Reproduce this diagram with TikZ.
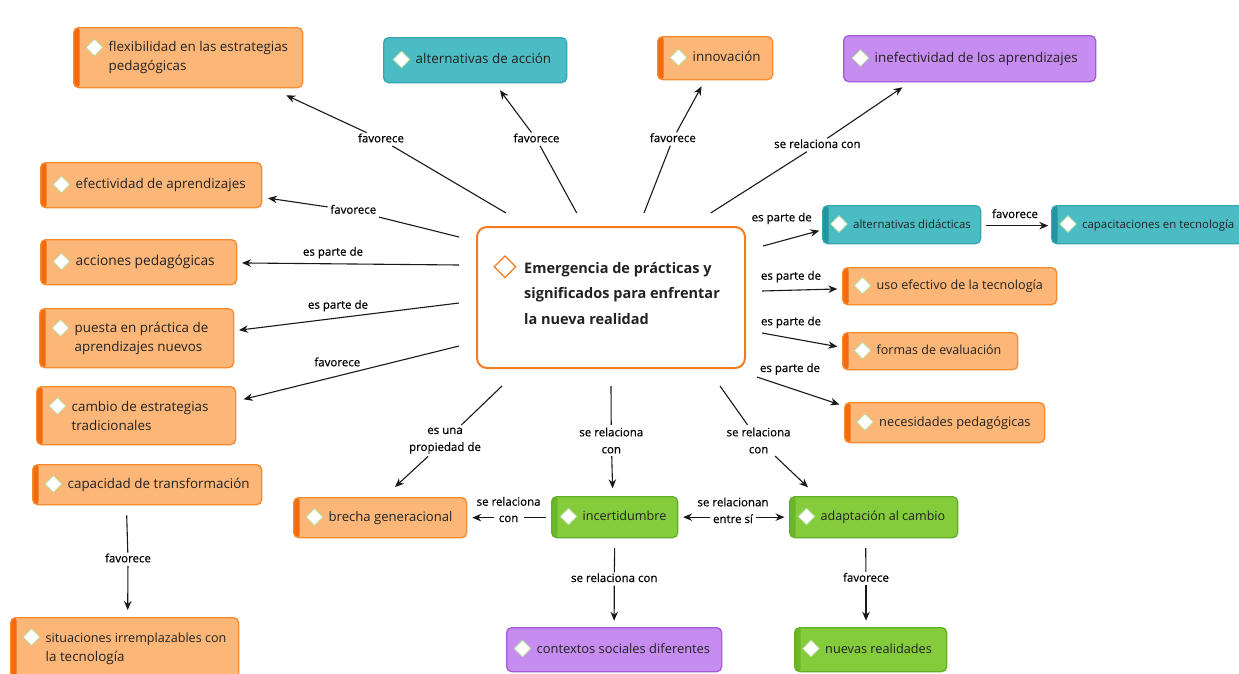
\documentclass[tikz,border=0pt]{standalone}
\usepackage{fontspec}
\setmainfont{Open Sans}
\newfontfamily\lblfont[FakeBold=0.5]{Open Sans}
\usetikzlibrary{arrows.meta,shapes.geometric}
\definecolor{ofill}{HTML}{FCB778}
\definecolor{oline}{HTML}{F7892E}
\definecolor{ostrip}{HTML}{F26C0F}
\definecolor{tfill}{HTML}{4CBCC4}
\definecolor{tline}{HTML}{35A6AF}
\definecolor{tstrip}{HTML}{1F96A0}
\definecolor{pfill}{HTML}{C78CF0}
\definecolor{pline}{HTML}{A45CD6}
\definecolor{gfill}{HTML}{84CC3C}
\definecolor{gline}{HTML}{62AE25}
\definecolor{gstrip}{HTML}{6CB62A}
\definecolor{cline}{HTML}{F47A20}
\definecolor{txtc}{HTML}{222222}
\definecolor{iconline}{HTML}{B5DE9A}
\newcommand\fs[1]{\fontsize{#1}{19}\selectfont}
\newcommand\cmbox[9]{%
  \node[#2, minimum width=#5pt, minimum height=#6pt] (#1) at (#3,#4) {};
  \node[icon] (#1i) at ([xshift=#7pt, yshift=-#8pt]#1.north west) {};
  \node[btxt] (#1t) at ([xshift=#7pt+14pt]#1.west) {#9};
}
\newcommand\cmboxtwo[9]{%
  \node[#2, minimum width=#5pt, minimum height=#6pt] (#1) at (#3,#4) {};
  \node[icon] (#1i) at ([xshift=#7pt, yshift=-#8pt]#1.north west) {};
  \node[btxtii] (#1t) at ([xshift=#7pt+14pt]#1.west) {#9};
}
\begin{document}
\begin{tikzpicture}[x=1pt,y=-1pt,
  boxbase/.style={draw, line width=1.3pt, rounded corners=5pt, inner sep=0pt, anchor=north west},
  leftstrip/.style={path picture={\fill[#1] ([xshift=-2pt,yshift=-2pt]path picture bounding box.south west) rectangle ([xshift=6pt,yshift=2pt]path picture bounding box.north west);}},
  obox/.style={boxbase, fill=ofill, draw=oline, leftstrip=ostrip},
  tbox/.style={boxbase, fill=tfill, draw=tline},
  tsbox/.style={tbox, leftstrip=tstrip},
  pbox/.style={boxbase, fill=pfill, draw=pline},
  gbox/.style={boxbase, fill=gfill, draw=gline, leftstrip=gstrip},
  cbox/.style={draw=cline, fill=white, line width=2pt, rounded corners=10pt, inner sep=0pt, anchor=north west},
  icon/.style={diamond, draw=iconline, fill=white, line width=0.8pt, minimum width=17pt, minimum height=17pt, inner sep=0pt},
  cicon/.style={diamond, draw=cline, fill=white, line width=1.3pt, minimum width=22pt, minimum height=22pt, inner sep=0pt},
  btxt/.style={font=\fontsize{13.4}{19}\selectfont, text=txtc, inner sep=0pt, anchor=west, text height=8pt, text depth=0.8pt},
  btxtii/.style={font=\fontsize{13.4}{19}\selectfont, text=txtc, inner sep=0pt, anchor=west, align=left},
  ctxt/.style={font=\fontsize{14.5}{25.5}\selectfont\bfseries, text=txtc, inner sep=0pt, anchor=west, align=left},
  lbl/.style={font=\lblfont\fontsize{11.5}{16}\selectfont, fill=white, inner sep=2.5pt, text height=7pt, text depth=1pt},
  lbln/.style={font=\lblfont\fontsize{11.5}{16}\selectfont, inner sep=1pt, text height=7pt, text depth=1pt},
  lblii/.style={font=\lblfont\fontsize{11.5}{17}\selectfont, fill=white, inner sep=2.5pt, align=center},
  ln/.style={line width=1.1pt, draw=black!90},
  arr/.style={ln, -{Stealth[length=9pt,width=7.5pt]}},
  darr/.style={ln, {Stealth[length=9pt,width=7.5pt]}-{Stealth[length=9pt,width=7.5pt]}}
]
\fill[white] (0,0) rectangle (1239,673);
\useasboundingbox (0,0) rectangle (1239,673);

% central node
\node[cbox, minimum width=268pt, minimum height=141pt] (ctr) at (476,226) {};
\node[cicon] (ctri) at (505,266.7) {};
\node[ctxt] (ctrt) at (524,293.5) {Emergencia de prácticas y\\significados para enfrentar\\la nueva realidad};

% concept boxes
\cmboxtwo{flex}{obox}{73}{27}{229}{60}{21.5}{20.5}{flexibilidad en las estrategias\\pedagógicas}
\cmbox{efect}{obox}{40}{162}{221}{45}{21.5}{22.5}{efectividad de aprendizajes}
\cmbox{acc}{obox}{40}{239}{196}{45}{21.5}{22.5}{\fs{13.8}acciones pedagógicas}
\cmboxtwo{puesta}{obox}{39}{308}{194}{59}{21.5}{20}{puesta en práctica de\\aprendizajes nuevos}
\cmboxtwo{cambio}{obox}{36}{386}{199}{58}{21.5}{20}{cambio de estrategias\\tradicionales}
\cmbox{transf}{obox}{32}{464}{229}{40}{21.5}{20}{capacidad de transformación}
\cmboxtwo{situ}{obox}{10}{617}{228}{62}{21.5}{20}{\fontsize{12.6}{18}\selectfont situaciones irremplazables con\\la tecnología}
\cmbox{innov}{obox}{657}{36}{115}{43}{21.5}{21.5}{innovación}
\cmbox{uso}{obox}{842}{267}{214}{37}{20.5}{18.5}{\fs{12.6}uso efectivo de la tecnología}
\cmbox{formas}{obox}{842}{332}{175}{37}{20.5}{18.5}{\fs{12.5}formas de evaluación}
\cmbox{neces}{obox}{844}{402}{200}{40}{21}{20}{\fs{12.8}necesidades pedagógicas}
\cmbox{brecha}{obox}{293}{497}{173}{40}{21.5}{20}{\fs{13.1}brecha generacional}
\cmbox{altacc}{tbox}{383}{37}{183}{45}{18.5}{22.5}{alternativas de acción}
\cmbox{altdid}{tsbox}{822}{205}{158}{38}{17}{19}{\fs{11.4}alternativas didácticas}
\cmbox{capac}{tsbox}{1051}{205}{200}{38}{17}{19}{\fs{11.4}capacitaciones en tecnología}
\cmbox{inef}{pbox}{843}{35}{252}{46}{17.5}{23}{inefectividad de los aprendizajes}
\cmbox{ctx}{pbox}{506}{627}{215}{44}{16.5}{21.5}{\fs{12.9}contextos sociales diferentes}
\cmbox{incert}{gbox}{551}{496}{126}{41}{17.5}{20.5}{\fs{12.6}incertidumbre}
\cmbox{adapt}{gbox}{789}{496}{168}{41}{17.5}{20.5}{\fs{12.5}adaptación al cambio}
\cmbox{nuevas}{gbox}{794}{627}{152}{44}{17}{21.5}{\fs{12.7}nuevas realidades}

% start points around the central node
\coordinate (sflex) at ([xshift=30pt,yshift=13pt]ctr.north west);
\coordinate (saltacc) at ([xshift=100.7pt,yshift=13pt]ctr.north west);
\coordinate (sinnov) at ([xshift=168pt,yshift=13pt]ctr.north west);
\coordinate (sinef) at ([xshift=234.7pt,yshift=13pt]ctr.north west);
\coordinate (sefect) at ([xshift=-17pt,yshift=-11pt]ctr.north west);
\coordinate (sacc) at ([xshift=-17pt,yshift=-39pt]ctr.north west);
\coordinate (spuesta) at ([xshift=-17pt,yshift=-77pt]ctr.north west);
\coordinate (scambio) at ([xshift=-17pt,yshift=-120pt]ctr.north west);
\coordinate (sbrecha) at ([xshift=26pt,yshift=-17pt]ctr.south west);
\coordinate (sincert) at ([xshift=135pt,yshift=-17pt]ctr.south west);
\coordinate (sadapt) at ([xshift=244pt,yshift=-17pt]ctr.south west);
\coordinate (saltdid) at ([xshift=17pt,yshift=-20pt]ctr.north east);
\coordinate (suso) at ([xshift=16pt,yshift=-65pt]ctr.north east);
\coordinate (sformas) at ([xshift=16pt,yshift=-107pt]ctr.north east);
\coordinate (sneces) at ([xshift=11pt,yshift=-8pt]ctr.south east);

% labelled connectors (line broken by label)
\node[lbl] (lflex) at (381,139.3) {favorece};
\draw[ln] (sflex) -- (lflex);
\draw[arr] (lflex) -- ([xshift=-17pt,yshift=-7pt]flex.south east);

\node[lbl] (laltacc) at (536.5,139.3) {favorece};
\draw[ln] (saltacc) -- (laltacc);
\draw[arr] (laltacc) -- ([xshift=117pt,yshift=-7pt]altacc.south west);

\node[lbl] (linnov) at (672.9,139) {favorece};
\draw[ln] (sinnov) -- (linnov);
\draw[arr] (linnov) -- ([xshift=44.6pt,yshift=-6pt]innov.south west);

\node[lbl] (linef) at (817.4,145) {se relaciona con};
\draw[ln] (sinef) -- (linef);
\draw[arr] (linef) -- ([xshift=59.5pt,yshift=-5pt]inef.south west);

\node[lbl] (lefect) at (353.3,210.7) {favorece};
\draw[ln] (sefect) -- (lefect);
\draw[arr] (lefect) -- ([xshift=5.7pt,yshift=-13pt]efect.east);

% connectors with label above the line
\draw[arr] (sacc) -- ([xshift=4.7pt,yshift=-0.8pt]acc.east);
\node[lbln] (lacc) at (333,252.7) {es parte de};
\draw[arr] (spuesta) -- ([xshift=4.7pt,yshift=8pt]puesta.east);
\node[lbln] (lpuesta) at (338,305.7) {es parte de};
\draw[arr] (scambio) -- ([xshift=7.3pt,yshift=-13.3pt]cambio.north east);
\node[lbln] (lcambio) at (337.3,363.3) {favorece};

\draw[arr] (saltdid) -- ([xshift=-2.7pt,yshift=-6pt]altdid.west);
\node[lbln] (laltdid) at (781.7,218.3) {es parte de};
\draw[arr] (suso) -- ([xshift=-4.7pt,yshift=-2.8pt]uso.west);
\node[lbln] (luso) at (791,276.7) {es parte de};
\draw[arr] (sformas) -- ([xshift=-4.7pt,yshift=4.5pt]formas.west);
\node[lbln] (lformas) at (791,322.3) {es parte de};
\draw[arr] (sneces) -- ([xshift=-4.6pt,yshift=-2.5pt]neces.north west);
\node[lbln] (lneces) at (790,369) {es parte de};

\draw[arr] ([xshift=5pt,yshift=-1pt]altdid.east) -- ([xshift=-2.7pt,yshift=-1pt]capac.west);
\node[lbln] (lcapac) at (1015,215) {favorece};

% lower connectors from the central node
\node[lblii] (lbrecha) at (445,440.7) {es una\\propiedad de};
\draw[ln] (sbrecha) -- (lbrecha);
\draw[arr] (lbrecha) -- ([xshift=102pt,yshift=10pt]brecha.north west);

\node[lblii] (lincert) at (611.3,440.5) {se relaciona\\con};
\draw[ln] (sincert) -- (lincert);
\draw[arr] (lincert) -- ([xshift=61.6pt,yshift=7.7pt]incert.north west);

\node[lblii] (ladapt) at (758.6,440.5) {se relaciona\\con};
\draw[ln] (sadapt) -- (ladapt);
\draw[arr] (ladapt) -- ([xshift=19pt,yshift=8.7pt]adapt.north west);

% between lower boxes
\node[lbln] (lib1) at (508.6,502.7) {se relaciona};
\node[lbl, inner xsep=5pt] (lib2) at (508.6,519) {con};
\draw[ln] ([xshift=-5.4pt]incert.west) -- (lib2.east |- incert.west);
\draw[arr] (lib2.west |- brecha.east) -- ([xshift=5pt]brecha.east);

\node[lbln] (lia1) at (733,503.3) {se relacionan};
\node[lbl] (lia2) at (733,520) {entre sí};
\draw[arr] (lia2.west |- incert.east) -- ([xshift=4.8pt]incert.east);
\draw[arr] (lia2.east |- adapt.west) -- ([xshift=-4.5pt]adapt.west);

\node[lbl] (lctx) at (614.3,579) {se relaciona con};
\draw[ln] ([yshift=-9.7pt]incert.south) -- (lctx);
\draw[arr] (lctx) -- ([yshift=6.3pt]ctx.north);

\node[lbl] (lnuevas) at (866,578.7) {favorece};
\draw[ln] ([xshift=76.7pt,yshift=-9.7pt]adapt.south west) -- (lnuevas);
\draw[arr] (lnuevas) -- ([xshift=72pt,yshift=6.3pt]nuevas.north west);

\node[lbl] (lsitu) at (128,559.3) {favorece};
\draw[ln] ([xshift=94.7pt,yshift=-10pt]transf.south west) -- (lsitu);
\draw[arr] (lsitu) -- ([xshift=117.7pt,yshift=7pt]situ.north west);
\end{tikzpicture}
\end{document}
